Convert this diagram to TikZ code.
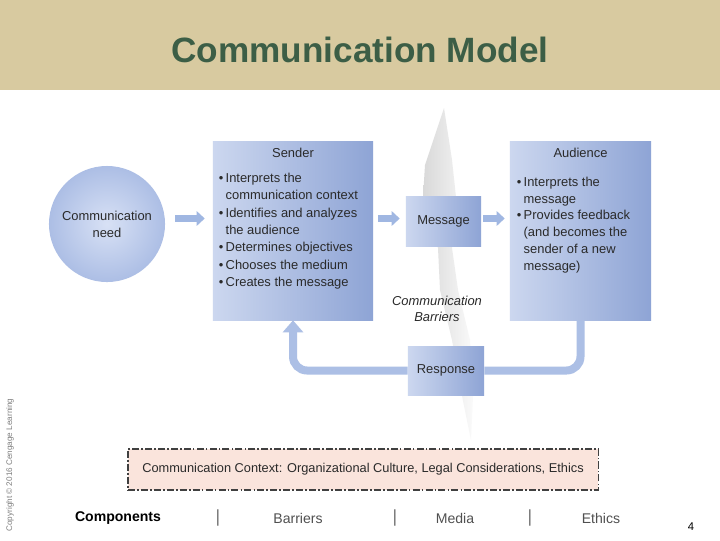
\documentclass[tikz,border=0pt]{standalone}
\usepackage{fontspec}
\setmainfont{Liberation Sans}
\usetikzlibrary{arrows.meta}

\definecolor{headtan}{RGB}{216,202,160}
\definecolor{titlegreen}{RGB}{60,94,70}
\definecolor{boxlight}{RGB}{204,215,239}
\definecolor{boxdark}{RGB}{142,164,213}
\definecolor{needin}{RGB}{216,225,245}
\definecolor{needout}{RGB}{146,169,219}
\definecolor{flowblue}{RGB}{160,183,226}
\definecolor{backblue}{RGB}{172,191,229}
\definecolor{ctxpink}{RGB}{250,228,220}
\definecolor{txtgray}{RGB}{42,42,42}
\definecolor{navgray}{RGB}{80,80,80}

\pgfdeclareradialshading{needglow}{\pgfpoint{0bp}{0bp}}{color(0bp)=(needin); color(18bp)=(needin!55!needout); color(40bp)=(needout); color(50bp)=(needout)}

\tikzset{
  stage/.style={rectangle, left color=boxlight, right color=boxdark, inner sep=0pt},
  boxtext/.style={font=\fontsize{9.2}{12.2}\selectfont, text=txtgray},
  flow/.style={draw=flowblue, line width=0.175cm, -{Triangle[length=0.2cm,width=0.36cm]}},
  feedback/.style={draw=backblue, line width=0.2cm, rounded corners=0.35cm},
  navtext/.style={font=\fontsize{10}{12}\selectfont, text=navgray},
  navbar/.style={font=\fontsize{12.5}{14}\selectfont, text=navgray!80},
}

\begin{document}
\begin{tikzpicture}[x=0.025cm, y=-0.025cm]
  \useasboundingbox (0,0) rectangle (720,540);
  \fill[white] (0,0) rectangle (720,540);

  % header
  \fill[headtan] (0,0) rectangle (720,90);
  \node[font=\fontsize{25}{30}\selectfont\bfseries, text=titlegreen] (title) at (360,50) {Communication Model};

  % barrier wedge
  \shade[left color=gray!30, right color=gray!4]
    (444,108) -- (452,160) -- (456,197) -- (452,248) -- (458,290) -- (470,340)
    -- (473,396) -- (471,440) -- (462,396) -- (452,340) -- (440,290)
    -- (438,248) -- (423,197) -- (425,165) -- cycle;

  % blocks
  \node[circle, minimum size=2.9cm, inner sep=0pt, shading=needglow, boxtext, align=center] (need) at (107,224) {Communication\\need};
  \node[stage, minimum width=4cm, minimum height=4.45cm] (sender) at (293,231) {};
  \node[stage, minimum width=1.875cm, minimum height=1.225cm, boxtext] (message) at (443.5,221.5) {Message};
  \node[stage, minimum width=3.525cm, minimum height=4.45cm] (audience) at (580.5,231) {};
  \node[stage, minimum width=1.9cm, minimum height=1.225cm, boxtext] (response) at (446,370.5) {Response};

  \node[boxtext] (sendertitle) at ([yshift=-0.275cm]sender.north) {Sender};
  \node[boxtext, font=\fontsize{9.2}{12.4}\selectfont, anchor=north west, inner sep=0pt] (senderlist)
    at ([xshift=0.15cm, yshift=-0.7cm]sender.north west)
    {\begin{tabular}{@{}l@{\,}l@{}}
      \textbullet & Interprets the\\
                  & communication context\\
      \textbullet & Identifies and analyzes\\
                  & the audience\\
      \textbullet & Determines objectives\\
      \textbullet & Chooses the medium\\
      \textbullet & Creates the message
    \end{tabular}};

  \node[boxtext] (audiencetitle) at ([yshift=-0.275cm]audience.north) {Audience};
  \node[boxtext, font=\fontsize{9.2}{11.9}\selectfont, anchor=north west, inner sep=0pt] (audiencelist)
    at ([xshift=0.175cm, yshift=-0.82cm]audience.north west)
    {\begin{tabular}{@{}l@{\,}l@{}}
      \textbullet & Interprets the\\
                  & message\\
      \textbullet & Provides feedback\\
                  & (and becomes the\\
                  & sender of a new\\
                  & message)
    \end{tabular}};

  \node[boxtext, font=\fontsize{9.2}{11.3}\selectfont\itshape, align=center] (barriers) at (437,309) {Communication\\Barriers};

  % arrows
  \draw[flow, shorten <=0.25cm, shorten >=0.2cm] (need.east |- 0,218.5) -- (sender.west |- 0,218.5);
  \draw[flow, shorten <=0.125cm, shorten >=0.15cm] (sender.east |- 0,218.5) -- (message.west |- 0,218.5);
  \draw[flow, shorten <=0.05cm, shorten >=0.125cm] (message.east |- 0,218.5) -- (audience.west |- 0,218.5);

  \draw[feedback] (audience.south) |- (response.east);
  \draw[feedback, -{Triangle[length=0.3cm,width=0.5cm]}] (response.west) -| (sender.south);

  % context
  \node[draw=black!75, line width=0.8pt, dash pattern=on 5pt off 1.5pt on 1.2pt off 1.5pt, fill=ctxpink,
        minimum width=11.75cm, minimum height=1.025cm, font=\fontsize{9.1}{11}\selectfont, text=txtgray]
    (context) at (363,469.5) {Communication Context: Organizational Culture, Legal Considerations, Ethics};

  % footer
  \node[navtext, font=\fontsize{10}{12}\selectfont\bfseries, text=black] (components) at (118,518) {Components};
  \node[navbar] (bar1) at (218,518) {|};
  \node[navtext] (barrierslink) at (298,518) {Barriers};
  \node[navbar] (bar2) at (395,518) {|};
  \node[navtext] (medialink) at (455,518) {Media};
  \node[navbar] (bar3) at (530,518) {|};
  \node[navtext] (ethicslink) at (601,518) {Ethics};
  \node[font=\fontsize{8}{10}\selectfont] (pagenum) at (691,527) {4};

  \node[rotate=90, font=\fontsize{5.8}{7}\selectfont, text=gray] (copyright) at (10,465) {Copyright © 2016 Cengage Learning};
\end{tikzpicture}
\end{document}
